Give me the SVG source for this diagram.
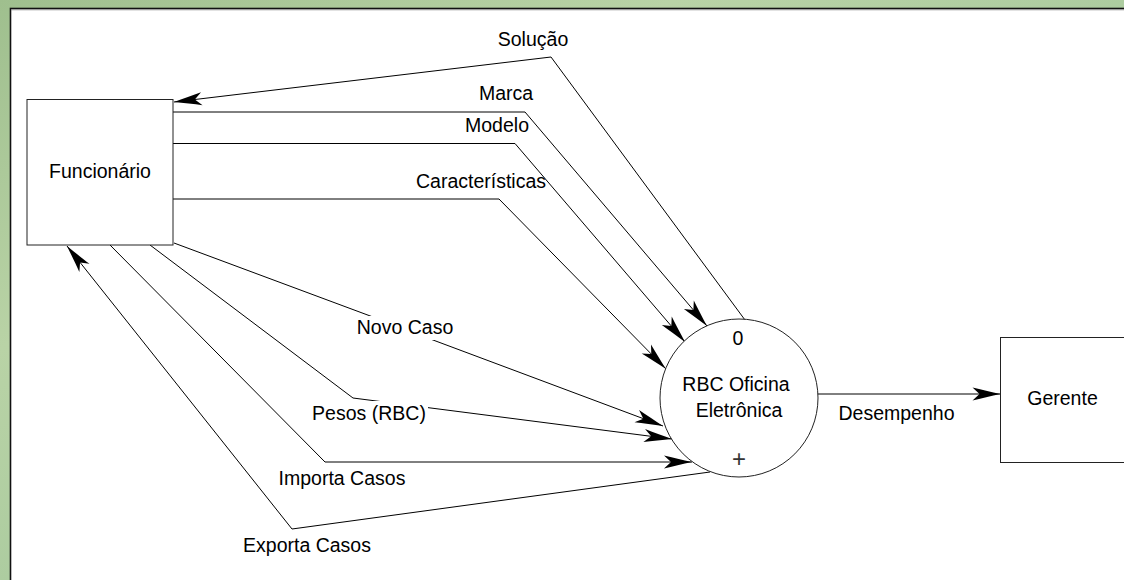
<svg xmlns="http://www.w3.org/2000/svg" width="1124" height="580" viewBox="0 0 1124 580">
<defs>
<linearGradient id="bg" x1="0" y1="0" x2="1" y2="1">
<stop offset="0" stop-color="#9fbf8e"/>
<stop offset="0.3" stop-color="#b9d3a6"/>
<stop offset="0.6" stop-color="#a7c99d"/>
<stop offset="1" stop-color="#c2d9b2"/>
</linearGradient>
<marker id="arr" markerUnits="userSpaceOnUse" viewBox="-30 -8 32 16" refX="0" refY="0" markerWidth="32" markerHeight="16" orient="auto" overflow="visible">
<path d="M0,0 C-9,-2 -20,-4.5 -28,-6.5 L-21,0 L-28,6.5 C-20,4.5 -9,2 0,0 Z" fill="#000"/>
</marker>
<style>
.t{font-family:"Liberation Sans",Arial,sans-serif;font-size:19.5px;fill:#000;text-anchor:middle}
.c{fill:none;stroke:#000;stroke-width:1}
.a{marker-end:url(#arr)}
.n{fill:#fff;stroke:#222;stroke-width:1}
</style>
</defs>
<rect x="0" y="0" width="1124" height="580" fill="url(#bg)"/>
<rect x="10.5" y="8.5" width="1200" height="700" fill="#fff" stroke="#111" stroke-width="1.6"/>
<line x1="11" y1="9.8" x2="1124" y2="9.8" stroke="#888" stroke-width="0.8"/>

<g id="connectors">
<path class="c a" d="M745,320 L551,57 L174,102"/>
<path class="c a" d="M173,112 L525,112 L707,326"/>
<path class="c a" d="M173,143.5 L515,143.5 L685,342"/>
<path class="c a" d="M173,199 L499,199 L666,369"/>
<path class="c a" d="M174,243 L373,317 L433,340 L663,426"/>
<path class="c a" d="M150,245 L353,398 L672,439"/>
<path class="c a" d="M110,245 L325,462 L692,462"/>
<path class="c a" d="M710,472 L292,529 L67,246"/>
<path class="c a" d="M817,394 L1000.5,394"/>
<g id="labels">
<text class="t" x="533" y="46">Solução</text>
<text class="t" x="506" y="100">Marca</text>
<text class="t" x="497" y="131.5">Modelo</text>
<text class="t" x="481" y="187.5">Características</text>
<rect x="355" y="316" width="100" height="24" fill="#fff"/>
<text class="t" x="405" y="334">Novo Caso</text>
<rect x="310" y="401" width="118" height="24" fill="#fff"/>
<text class="t" x="369" y="419.5">Pesos (RBC)</text>
<text class="t" x="342" y="485">Importa Casos</text>
<text class="t" x="307" y="551.5">Exporta Casos</text>
<text class="t" x="896.5" y="420">Desempenho</text>
</g>
</g>

<g id="funcionario">
<rect class="n" x="27" y="99.5" width="146" height="145.5"/>
<text class="t" x="100" y="178">Funcionário</text>
</g>

<g id="rbc">
<circle class="n" cx="739" cy="398" r="79" fill="none"/>
<text class="t" x="738" y="345">0</text>
<text class="t" x="736" y="391">RBC Oficina</text>
<text class="t" x="739" y="417">Eletrônica</text>
<text class="t" x="739" y="467" style="font-size:24px;fill:#333;font-weight:300">+</text>
</g>

<g id="gerente">
<rect class="n" x="1000.5" y="337.5" width="130" height="125"/>
<text class="t" x="1062.5" y="405">Gerente</text>
</g>
</svg>
